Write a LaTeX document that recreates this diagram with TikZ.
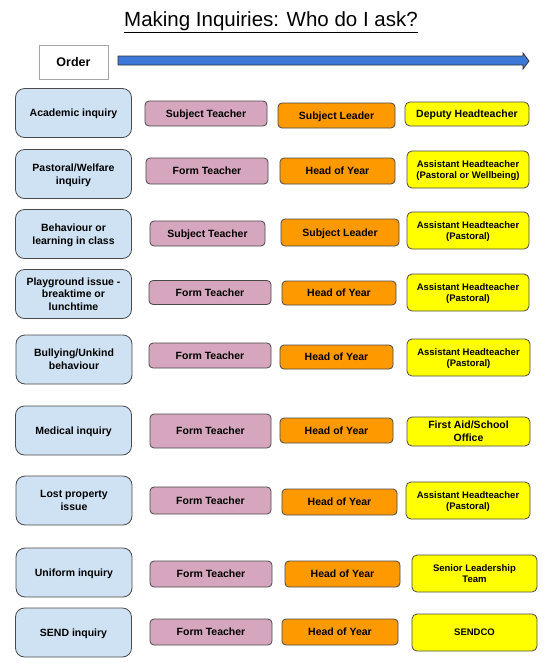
\documentclass[tikz,border=0pt]{standalone}
\usepackage{fontspec}
\setmainfont{Liberation Sans}
\definecolor{lblue}{HTML}{CFE2F3}
\definecolor{lpink}{HTML}{D5A6BD}
\definecolor{lorange}{HTML}{FF9900}
\definecolor{lyellow}{HTML}{FFFF00}
\definecolor{edge}{HTML}{4A4A4A}
\definecolor{arrowblue}{HTML}{3C78D8}
\tikzset{
  base/.style={draw=edge, line width=0.8pt, align=center, inner sep=0pt, text depth=0pt, font=\bfseries\fontsize{10.5}{12.8}\selectfont},
  leftbox/.style={base, fill=lblue, rounded corners=9pt, minimum width=116pt, minimum height=49pt},
  pinkbox/.style={base, fill=lpink, rounded corners=4pt, minimum height=26pt},
  orangebox/.style={base, fill=lorange, rounded corners=4pt, minimum height=26pt},
  yellowbox/.style={base, fill=lyellow, rounded corners=5pt, minimum height=37pt},
  small/.style={font=\bfseries\fontsize{9.5}{11.5}\selectfont},
}
\begin{document}
\begin{tikzpicture}[x=1pt,y=-1pt]
\useasboundingbox (0,0) rectangle (549,665);
\node[font=\fontsize{20.5}{24}\selectfont] (title) at (271,22) {\underline{Making Inquiries: Who do I ask?}};
\node[draw=gray!70, line width=0.8pt, minimum width=69pt, minimum height=34pt, inner sep=0pt, text depth=0pt, font=\bfseries\fontsize{12.5}{15}\selectfont] (order) at (73.5,62) {Order};
\draw[fill=arrowblue, draw=black!80, line width=0.8pt]
  (118,56) -- (523,56) -- (523,53) -- (529,61) -- (523,69) -- (523,65) -- (118,65) -- cycle;
% Row 1
\node[leftbox] (l1) at (73.5,113) {Academic inquiry};
\node[pinkbox, minimum width=122pt, minimum height=25pt] (p1) at (206,113.5) {Subject Teacher};
\node[orangebox, minimum width=117pt, minimum height=25pt] (o1) at (336.5,115.5) {Subject Leader};
\node[yellowbox, minimum width=124pt, minimum height=24pt] (y1) at (467,114) {Deputy Headteacher};
% Row 2
\node[leftbox] (l2) at (73.5,174) {Pastoral/Welfare\\inquiry};
\node[pinkbox, minimum width=122pt] (p2) at (207,171) {Form Teacher};
\node[orangebox, minimum width=115pt] (o2) at (337.5,171) {Head of Year};
\node[yellowbox, small, minimum width=122pt] (y2) at (468,169.5) {Assistant Headteacher\\(Pastoral or Wellbeing)};
% Row 3
\node[leftbox] (l3) at (73.5,234) {Behaviour or\\learning in class};
\node[pinkbox, minimum width=115pt, minimum height=25pt] (p3) at (207.5,233.5) {Subject Teacher};
\node[orangebox, minimum width=118pt, minimum height=27pt] (o3) at (340,232.5) {Subject Leader};
\node[yellowbox, small, minimum width=122pt] (y3) at (468,230.5) {Assistant Headteacher\\(Pastoral)};
% Row 4
\node[leftbox] (l4) at (73.5,294) {Playground issue -\\breaktime or\\lunchtime};
\node[pinkbox, minimum width=122pt, minimum height=24pt] (p4) at (210,292.5) {Form Teacher};
\node[orangebox, minimum width=114pt, minimum height=24pt] (o4) at (339,293) {Head of Year};
\node[yellowbox, small, minimum width=122pt] (y4) at (468,292.5) {Assistant Headteacher\\(Pastoral)};
% Row 5
\node[leftbox] (l5) at (74,359.5) {Bullying/Unkind\\behaviour};
\node[pinkbox, minimum width=122pt, minimum height=25pt] (p5) at (210,355.5) {Form Teacher};
\node[orangebox, minimum width=113pt, minimum height=24pt] (o5) at (336.5,357) {Head of Year};
\node[yellowbox, small, minimum width=123pt] (y5) at (468.5,357.5) {Assistant Headteacher\\(Pastoral)};
% Row 6
\node[leftbox] (l6) at (73.5,430.5) {Medical inquiry};
\node[pinkbox, minimum width=121pt, minimum height=34pt] (p6) at (210.5,431) {Form Teacher};
\node[orangebox, minimum width=113pt, minimum height=25pt] (o6) at (336.5,430.5) {Head of Year};
\node[yellowbox, minimum width=123pt, minimum height=29pt] (y6) at (468.5,431.5) {First Aid/School\\Office};
% Row 7
\node[leftbox] (l7) at (74,500.5) {Lost property\\issue};
\node[pinkbox, minimum width=121pt, minimum height=27pt] (p7) at (210.5,500.5) {Form Teacher};
\node[orangebox, minimum width=115pt, minimum height=26pt] (o7) at (339.5,502) {Head of Year};
\node[yellowbox, small, minimum width=124pt] (y7) at (468,500.5) {Assistant Headteacher\\(Pastoral)};
% Row 8
\node[leftbox] (l8) at (74,572.5) {Uniform inquiry};
\node[pinkbox, minimum width=122pt] (p8) at (211,574) {Form Teacher};
\node[orangebox, minimum width=115pt] (o8) at (342.5,574) {Head of Year};
\node[yellowbox, small, minimum width=125pt] (y8) at (474.5,573.5) {Senior Leadership\\Team};
% Row 9
\node[leftbox] (l9) at (73.5,632.5) {SEND inquiry};
\node[pinkbox, minimum width=122pt] (p9) at (211,632) {Form Teacher};
\node[orangebox, minimum width=116pt] (o9) at (340,632) {Head of Year};
\node[yellowbox, small, minimum width=125pt] (y9) at (474.5,632.5) {SENDCO};
\end{tikzpicture}
\end{document}
